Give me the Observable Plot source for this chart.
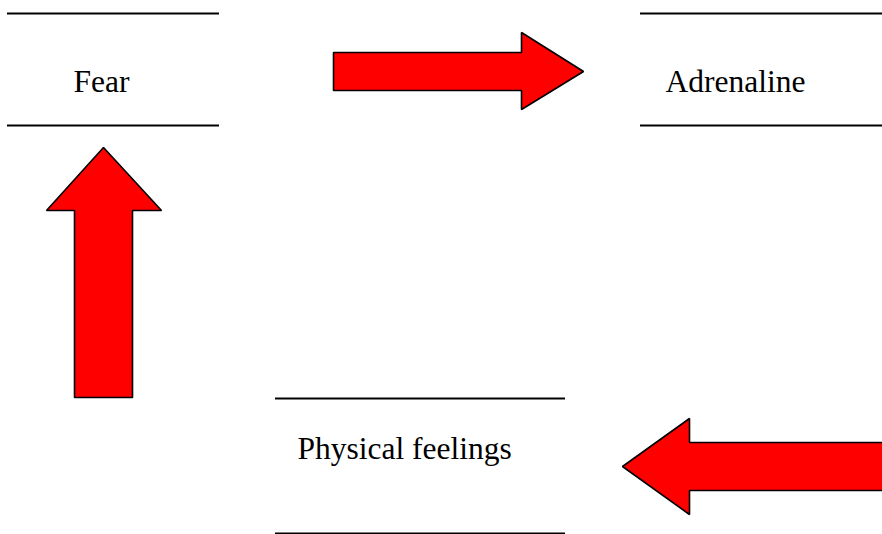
<!DOCTYPE html>
<html>
<head>
<meta charset="utf-8">
<script src="https://cdn.jsdelivr.net/npm/d3@7"></script>
<script src="https://cdn.jsdelivr.net/npm/@observablehq/plot@0.6"></script>
<style>
  html, body { margin: 0; padding: 0; background: #fff; overflow: hidden; }
  #chart svg { display: block; }
</style>
</head>
<body>
<div id="chart"></div>
<script>
// Labels of the three stages (y = visual middle of the text line)
const labels = ["Fear", "Adrenaline", "Physical feelings"];
const labelX = [73, 665, 297];
const labelY = [81, 81, 448];

// Horizontal rules bracketing each stage: [x1, x2, y]
const rules = [
  [7, 219, 13], [7, 219, 125],
  [640, 890, 13], [640, 890, 125],
  [275, 565, 398], [275, 565, 533]
];

// Arrow outlines (polygon vertices)
const arrowRight = [
  [333, 52], [521, 52], [521, 32], [583, 71], [521, 109], [521, 90], [333, 90]
];
const arrowUp = [
  [74, 397], [74, 210], [46, 210], [103, 147], [161, 210], [132, 210], [132, 397]
];
const arrowLeft = [
  [895, 442], [689, 442], [689, 418], [622, 466], [689, 514], [689, 490], [895, 490]
];

const arrows = [
  ...arrowRight.map(([x, y]) => ({id: "right", x, y})),
  ...arrowUp.map(([x, y]) => ({id: "up", x, y})),
  ...arrowLeft.map(([x, y]) => ({id: "left", x, y}))
];
const ruleData = rules.map(([x1, x2, y]) => ({x1, x2, y}));
const labelData = labels.map((t, i) => ({t, x: labelX[i], y: labelY[i]}));

const chart = Plot.plot({
  width: 882,
  height: 534,
  margin: 0,
  x: {domain: [0, 882], axis: null},
  y: {domain: [0, 534], reverse: true, axis: null},
  style: {background: "#fff", overflow: "hidden"},
  marks: [
    Plot.line(arrows, {
      x: "x", y: "y", z: "id",
      curve: "linear-closed",
      fill: "#ff0000",
      stroke: "#000",
      strokeWidth: 1.6,
      strokeLinejoin: "miter"
    }),
    Plot.ruleY(ruleData, {
      x1: "x1", x2: "x2", y: "y",
      stroke: "#000", strokeWidth: 2
    }),
    Plot.text(labelData, {
      x: "x", y: "y", text: "t",
      textAnchor: "start",
      lineAnchor: "middle",
      fontSize: 31.5,
      fontFamily: "Liberation Serif, 'Times New Roman', serif",
      fill: "#000"
    })
  ]
});
chart.setAttribute("overflow", "hidden");
document.getElementById("chart").appendChild(chart);
</script>
</body>
</html>
